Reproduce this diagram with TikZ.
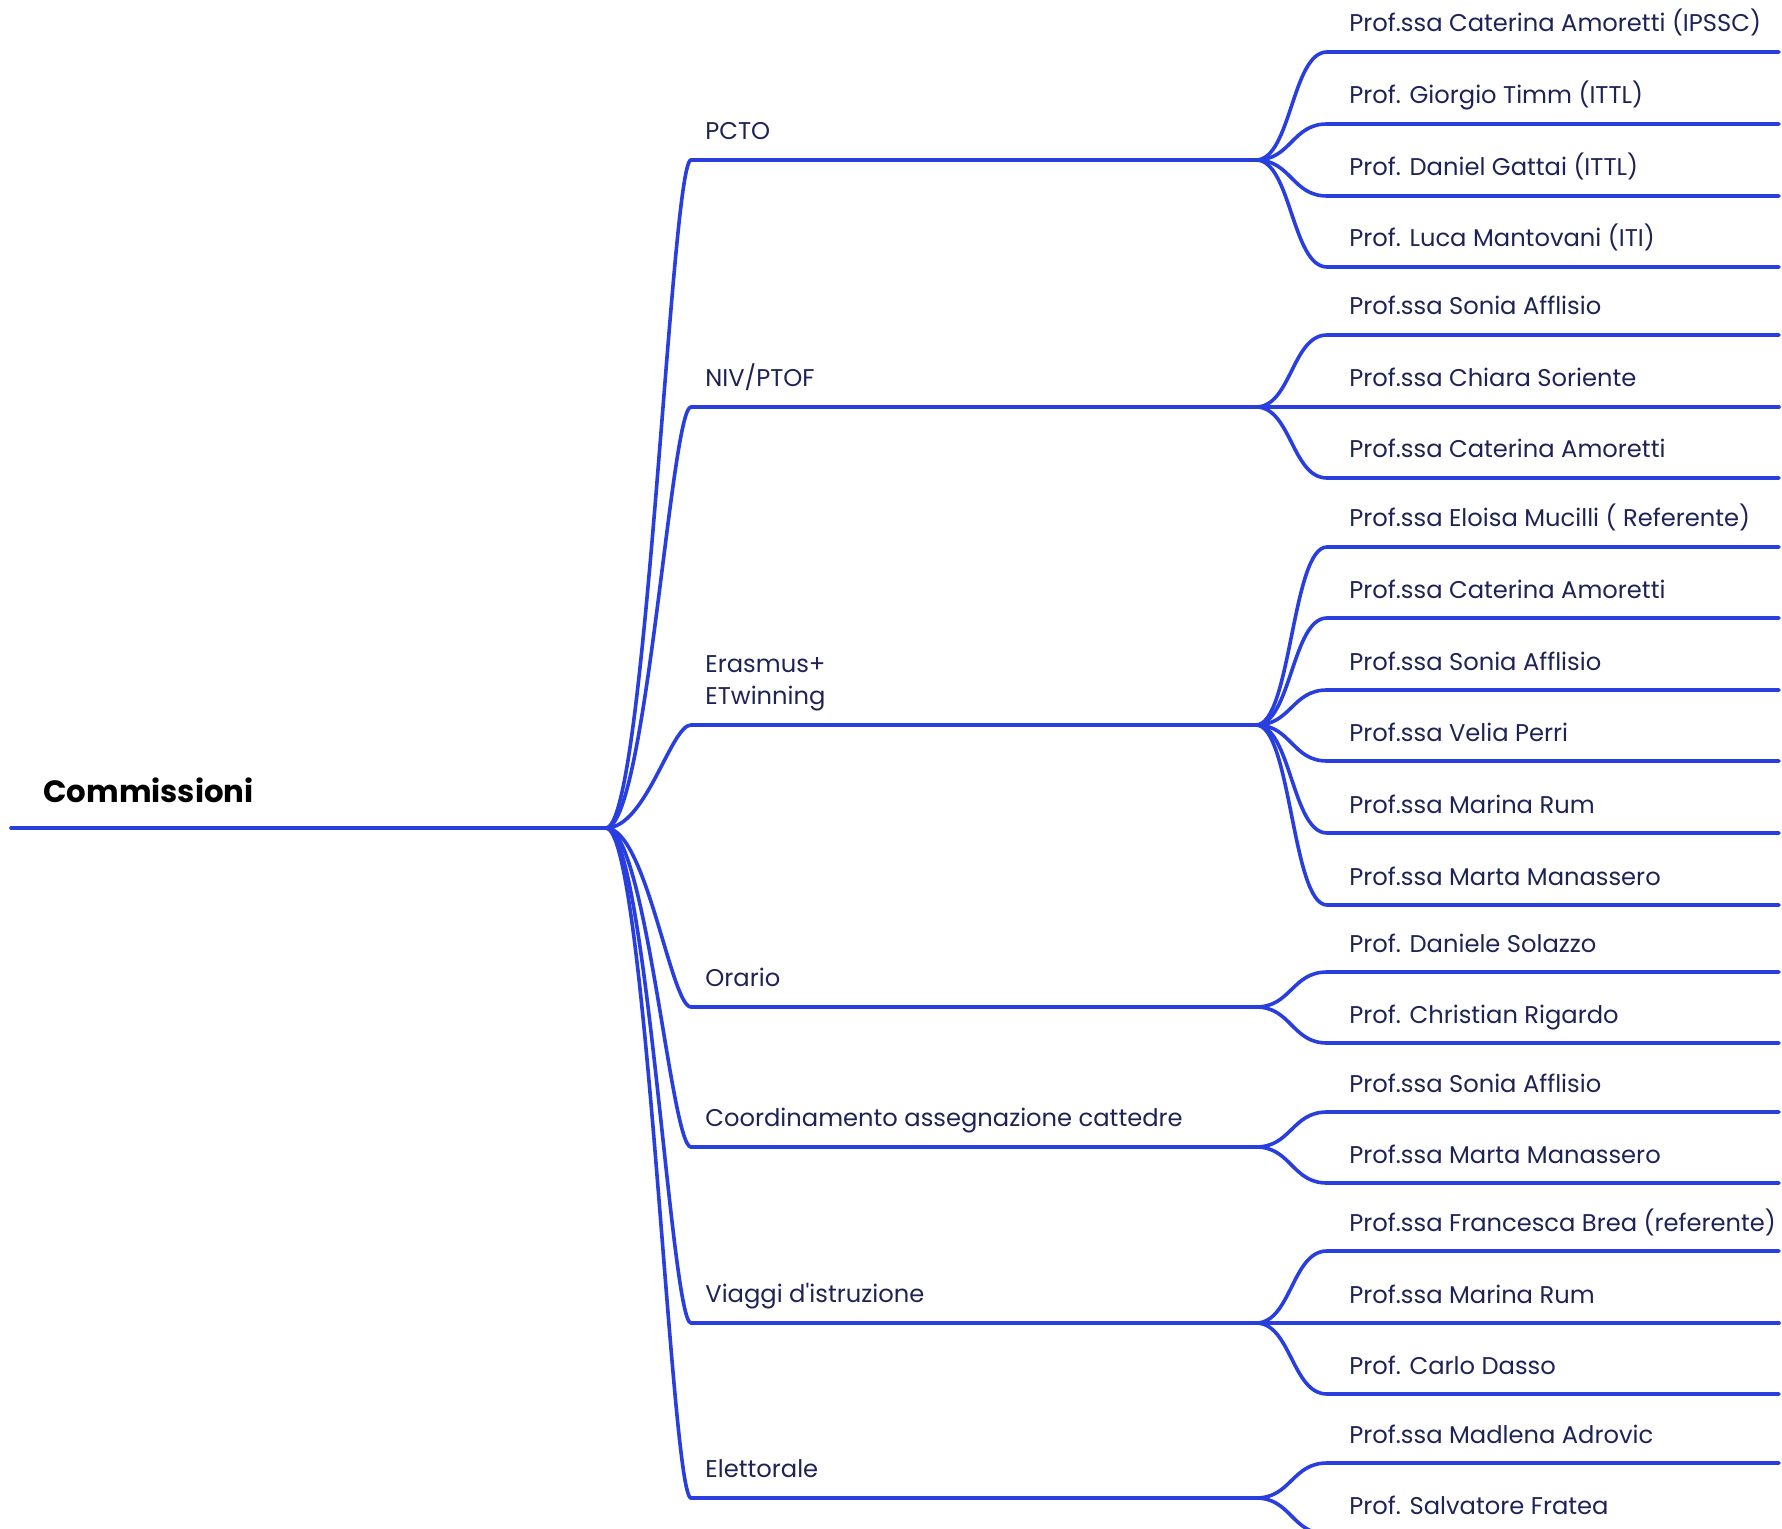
\documentclass[tikz,border=0pt]{standalone}
\usepackage{fontspec}
\setmainfont{Poppins}[Ligatures=TeXOff]
\usepackage{tikz}
\usetikzlibrary{positioning,calc}
\definecolor{mapblue}{RGB}{40,62,222}
\definecolor{mapnavy}{RGB}{30,35,85}

\tikzset{
  branch/.style={draw=mapblue, line width=1.8pt, line cap=round},
  rootlabel/.style={anchor=base west, inner sep=0pt, text=black, font=\bfseries\fontsize{15.4}{19}\selectfont},
  catlabel/.style={anchor=south west, inner sep=0pt, text depth=0pt, align=left, text=mapnavy, font=\fontsize{12.1}{16}\selectfont},
  leaflabel/.style={anchor=base west, inner sep=0pt, text=mapnavy, font=\fontsize{12.1}{16}\selectfont},
}

\begin{document}
\begin{tikzpicture}[x=0.5pt, y=-0.5pt]
	\useasboundingbox (0,0) rectangle (1782,1529);
	% root
	\coordinate (root-s) at (11,828);
	\coordinate (root) at (606,828);
	\draw[branch] (root-s) -- (root);
	\node[rootlabel] (commissioni) at (43,802) {Commissioni};

	% PCTO
	\coordinate (pcto) at (691,160);
	\coordinate (pcto-j) at (1256,160);
	\draw[branch] (root) .. controls +(40,0) and +(-20,0) .. (pcto) -- (pcto-j);
	\node[catlabel] (pcto-l) at ($(pcto)+(14,-20)$) {PCTO};
	\foreach \y/\t [count=\i] in {52/{Prof.ssa Caterina Amoretti (IPSSC)}, 124/{Prof. Giorgio Timm (ITTL)}, 196/{Prof. Daniel Gattai (ITTL)}, 267/{Prof. Luca Mantovani (ITI)}} {
		\coordinate (pcto-\i) at (1327,\y);
		\coordinate (pcto-\i-e) at (1779,\y);
		\draw[branch] (pcto-j) .. controls +(35,0) and +(-35,0) .. (pcto-\i) -- (pcto-\i-e);
		\node[leaflabel] (pcto-\i-l) at (1349,\y-20) {\t};
	}

	% NIV/PTOF
	\coordinate (niv) at (691,407);
	\coordinate (niv-j) at (1256,407);
	\draw[branch] (root) .. controls +(40,0) and +(-20,0) .. (niv) -- (niv-j);
	\node[catlabel] (niv-l) at ($(niv)+(14,-20)$) {NIV/PTOF};
	\foreach \y/\t [count=\i] in {335/{Prof.ssa Sonia Afflisio}, 407/{Prof.ssa Chiara Soriente}, 478/{Prof.ssa Caterina Amoretti}} {
		\coordinate (niv-\i) at (1327,\y);
		\coordinate (niv-\i-e) at (1779,\y);
		\draw[branch] (niv-j) .. controls +(35,0) and +(-35,0) .. (niv-\i) -- (niv-\i-e);
		\node[leaflabel] (niv-\i-l) at (1349,\y-20) {\t};
	}

	% Erasmus+ / ETwinning
	\coordinate (eras) at (691,725);
	\coordinate (eras-j) at (1256,725);
	\draw[branch] (root) .. controls +(40,0) and +(-20,0) .. (eras) -- (eras-j);
	\node[catlabel] (eras-l) at ($(eras)+(14,-20)$) {Erasmus+\\ETwinning};
	\foreach \y/\t [count=\i] in {547/{Prof.ssa Eloisa Mucilli ( Referente)}, 618/{Prof.ssa Caterina Amoretti}, 690/{Prof.ssa Sonia Afflisio}, 761/{Prof.ssa Velia Perri}, 833/{Prof.ssa Marina Rum}, 905/{Prof.ssa Marta Manassero}} {
		\coordinate (eras-\i) at (1327,\y);
		\coordinate (eras-\i-e) at (1779,\y);
		\draw[branch] (eras-j) .. controls +(35,0) and +(-35,0) .. (eras-\i) -- (eras-\i-e);
		\node[leaflabel] (eras-\i-l) at (1349,\y-20) {\t};
	}

	% Orario
	\coordinate (orario) at (691,1007);
	\coordinate (orario-j) at (1256,1007);
	\draw[branch] (root) .. controls +(40,0) and +(-20,0) .. (orario) -- (orario-j);
	\node[catlabel] (orario-l) at ($(orario)+(14,-20)$) {Orario};
	\foreach \y/\t [count=\i] in {972/{Prof. Daniele Solazzo}, 1043/{Prof. Christian Rigardo}} {
		\coordinate (orario-\i) at (1327,\y);
		\coordinate (orario-\i-e) at (1779,\y);
		\draw[branch] (orario-j) .. controls +(35,0) and +(-35,0) .. (orario-\i) -- (orario-\i-e);
		\node[leaflabel] (orario-\i-l) at (1349,\y-20) {\t};
	}

	% Coordinamento
	\coordinate (coord) at (691,1147);
	\coordinate (coord-j) at (1256,1147);
	\draw[branch] (root) .. controls +(40,0) and +(-20,0) .. (coord) -- (coord-j);
	\node[catlabel] (coord-l) at ($(coord)+(14,-20)$) {Coordinamento assegnazione cattedre};
	\foreach \y/\t [count=\i] in {1112/{Prof.ssa Sonia Afflisio}, 1183/{Prof.ssa Marta Manassero}} {
		\coordinate (coord-\i) at (1327,\y);
		\coordinate (coord-\i-e) at (1779,\y);
		\draw[branch] (coord-j) .. controls +(35,0) and +(-35,0) .. (coord-\i) -- (coord-\i-e);
		\node[leaflabel] (coord-\i-l) at (1349,\y-20) {\t};
	}

	% Viaggi d'istruzione
	\coordinate (viaggi) at (691,1323);
	\coordinate (viaggi-j) at (1256,1323);
	\draw[branch] (root) .. controls +(40,0) and +(-20,0) .. (viaggi) -- (viaggi-j);
	\node[catlabel] (viaggi-l) at ($(viaggi)+(14,-20)$) {Viaggi d'istruzione};
	\foreach \y/\t [count=\i] in {1251/{Prof.ssa Francesca Brea (referente)}, 1323/{Prof.ssa Marina Rum}, 1394/{Prof. Carlo Dasso}} {
		\coordinate (viaggi-\i) at (1327,\y);
		\coordinate (viaggi-\i-e) at (1779,\y);
		\draw[branch] (viaggi-j) .. controls +(35,0) and +(-35,0) .. (viaggi-\i) -- (viaggi-\i-e);
		\node[leaflabel] (viaggi-\i-l) at (1349,\y-20) {\t};
	}

	% Elettorale
	\coordinate (elett) at (691,1498);
	\coordinate (elett-j) at (1256,1498);
	\draw[branch] (root) .. controls +(40,0) and +(-20,0) .. (elett) -- (elett-j);
	\node[catlabel] (elett-l) at ($(elett)+(14,-20)$) {Elettorale};
	\foreach \y/\t [count=\i] in {1463/{Prof.ssa Madlena Adrovic}, 1534/{Prof. Salvatore Fratea}} {
		\coordinate (elett-\i) at (1327,\y);
		\coordinate (elett-\i-e) at (1779,\y);
		\draw[branch] (elett-j) .. controls +(35,0) and +(-35,0) .. (elett-\i) -- (elett-\i-e);
		\node[leaflabel] (elett-\i-l) at (1349,\y-20) {\t};
	}
\end{tikzpicture}
\end{document}
